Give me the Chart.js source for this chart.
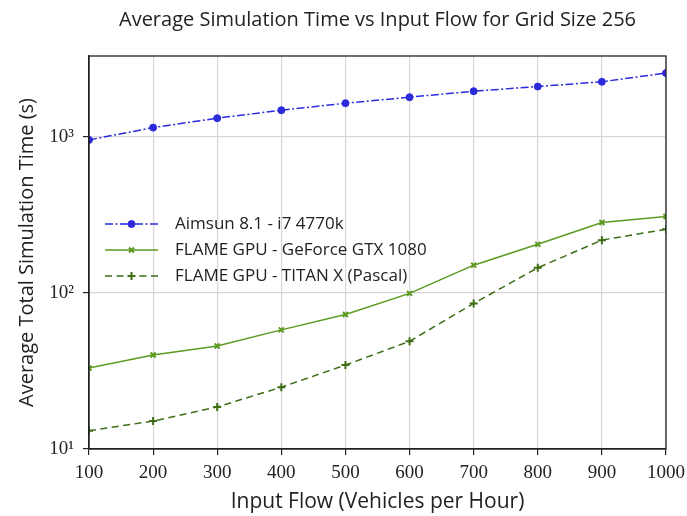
<!DOCTYPE html>
<html>
<head>
<meta charset="utf-8">
<script src="https://cdn.jsdelivr.net/npm/chart.js@4"></script>
<style>
html,body{margin:0;padding:0;background:#fff;}
#wrap{width:687px;height:516px;}
</style>
</head>
<body>
<div id="wrap"><canvas id="c" width="687" height="516"></canvas></div>
<script>
const inputFlow = [100, 200, 300, 400, 500, 600, 700, 800, 900, 1000];
const aimsun = [957, 1147, 1318, 1483, 1645, 1797, 1963, 2103, 2256, 2566];
const gtx1080 = [33, 40, 45.7, 58, 72.8, 99.4, 150.7, 205, 283, 309];
const titanX = [13.1, 15.1, 18.6, 24.9, 34.5, 49, 85.7, 145, 218, 256];
const seriesLabels = ['Aimsun 8.1 - i7 4770k', 'FLAME GPU - GeForce GTX 1080', 'FLAME GPU - TITAN X (Pascal)'];
const yTickValues = [10, 100, 1000];
const yTickLabels = ['10\u00B9', '10\u00B2', '10\u00B3'];
const xTickValues = [100, 200, 300, 400, 500, 600, 700, 800, 900, 1000];
const xTickLabels = ['100', '200', '300', '400', '500', '600', '700', '800', '900', '1000'];

const SANS = "'Open Sans', 'DejaVu Sans', sans-serif";
const SERIF = "'Liberation Serif', 'DejaVu Serif', serif";

const frame = {
  id: 'frame',
  afterDraw(chart) {
    const a = chart.chartArea, ctx = chart.ctx;
    ctx.save();
    ctx.strokeStyle = '#222';
    ctx.lineWidth = 1.3;
    ctx.strokeRect(a.left, a.top, a.right - a.left, a.bottom - a.top);
    ctx.restore();
  }
};

const inLegend = {
  id: 'inLegend',
  afterDatasetsDraw(chart) {
    const ctx = chart.ctx;
    const x0 = 105, x1 = 158, tx = 175;
    const ys = [224, 250, 276];
    chart.data.datasets.forEach((ds, i) => {
      const y = ys[i];
      ctx.save();
      ctx.strokeStyle = ds.borderColor;
      ctx.fillStyle = ds.pointBackgroundColor;
      ctx.lineWidth = ds.borderWidth;
      ctx.setLineDash(ds.borderDash || []);
      ctx.beginPath();
      ctx.moveTo(x0, y);
      ctx.lineTo(x1, y);
      ctx.stroke();
      ctx.setLineDash([]);
      ctx.lineWidth = ds.pointBorderWidth || 1;
      Chart.helpers.drawPoint(ctx, {
        pointStyle: ds.pointStyle,
        radius: ds.pointRadius,
        rotation: 0,
        borderWidth: ds.pointBorderWidth || 1
      }, (x0 + x1) / 2, y);
      ctx.restore();
      ctx.save();
      ctx.fillStyle = '#222';
      ctx.font = "17px " + SANS;
      ctx.textBaseline = 'middle';
      ctx.fillText(ds.label, tx, y);
      ctx.restore();
    });
  }
};

new Chart(document.getElementById('c'), {
  type: 'line',
  data: {
    datasets: [
      {
        label: seriesLabels[0],
        data: inputFlow.map((x, i) => ({x, y: aimsun[i]})),
        borderColor: '#2b2bdc',
        backgroundColor: '#2b2bdc',
        pointBackgroundColor: '#2b2bdc',
        pointBorderColor: '#2b2bdc',
        borderWidth: 1.5,
        borderDash: [8, 2.5, 2, 2.5],
        pointStyle: 'circle',
        pointRadius: 3.5,
        pointBorderWidth: 1,
        fill: false,
        tension: 0
      },
      {
        label: seriesLabels[1],
        data: inputFlow.map((x, i) => ({x, y: gtx1080[i]})),
        borderColor: '#5b9a1f',
        backgroundColor: '#5b9a1f',
        pointBackgroundColor: '#5b9a1f',
        pointBorderColor: '#5b9a1f',
        borderWidth: 1.5,
        borderDash: [],
        pointStyle: 'crossRot',
        pointRadius: 3.5,
        pointBorderWidth: 2,
        fill: false,
        tension: 0
      },
      {
        label: seriesLabels[2],
        data: inputFlow.map((x, i) => ({x, y: titanX[i]})),
        borderColor: '#3e6d14',
        backgroundColor: '#3e6d14',
        pointBackgroundColor: '#3e6d14',
        pointBorderColor: '#3e6d14',
        borderWidth: 1.5,
        borderDash: [7, 4.5],
        pointStyle: 'cross',
        pointRadius: 4,
        pointBorderWidth: 2,
        fill: false,
        tension: 0
      }
    ]
  },
  options: {
    responsive: false,
    animation: false,
    devicePixelRatio: 1,
    layout: { padding: { left: 0, right: 21, top: 0, bottom: 0 } },
    plugins: {
      legend: { display: false },
      tooltip: { enabled: false },
      title: {
        display: true,
        text: 'Average Simulation Time vs Input Flow for Grid Size 256',
        fullSize: false,
        color: '#222',
        font: { family: SANS, size: 20, weight: 'normal', lineHeight: 1.2 },
        padding: { top: 8, bottom: 24 }
      }
    },
    scales: {
      x: {
        type: 'linear',
        min: 100,
        max: 1000,
        afterBuildTicks(s) { s.ticks = xTickValues.map(v => ({value: v})); },
        afterFit(s) { s.height = 67; s.paddingRight = 0; s.paddingLeft = 0; },
        grid: { color: '#d6d6d6', lineWidth: 1.2, tickColor: '#222', tickLength: 6, drawOnChartArea: true },
        border: { display: true, color: '#222', width: 1.3 },
        ticks: {
          color: '#222', font: { family: SERIF, size: 19, lineHeight: 1.2 }, padding: 7, maxRotation: 0, autoSkip: false,
          callback(v) { const i = xTickValues.indexOf(v); return i >= 0 ? xTickLabels[i] : ''; }
        },
        title: { display: true, text: 'Input Flow (Vehicles per Hour)', color: '#222', font: { family: SANS, size: 21, lineHeight: 1.2 }, padding: { top: 0, bottom: 1 } }
      },
      y: {
        type: 'logarithmic',
        min: 10,
        max: 3300,
        afterBuildTicks(s) { s.ticks = yTickValues.map(v => ({value: v})); },
        afterFit(s) { s.width = 89; s.paddingTop = 0; s.paddingBottom = 0; },
        grid: { color: '#d6d6d6', lineWidth: 1.2, tickColor: '#222', tickLength: 6, drawOnChartArea: true },
        border: { display: true, color: '#222', width: 1.3 },
        ticks: {
          color: '#222', font: { family: SERIF, size: 19 }, padding: 9, autoSkip: false,
          callback(v) { const i = yTickValues.indexOf(v); return i >= 0 ? yTickLabels[i] : ''; }
        },
        title: { display: true, text: 'Average Total Simulation Time (s)', color: '#222', font: { family: SANS, size: 20, lineHeight: 1.2 }, padding: { top: 15, bottom: 0 } }
      }
    }
  },
  plugins: [frame, inLegend]
});
</script>
</body>
</html>
